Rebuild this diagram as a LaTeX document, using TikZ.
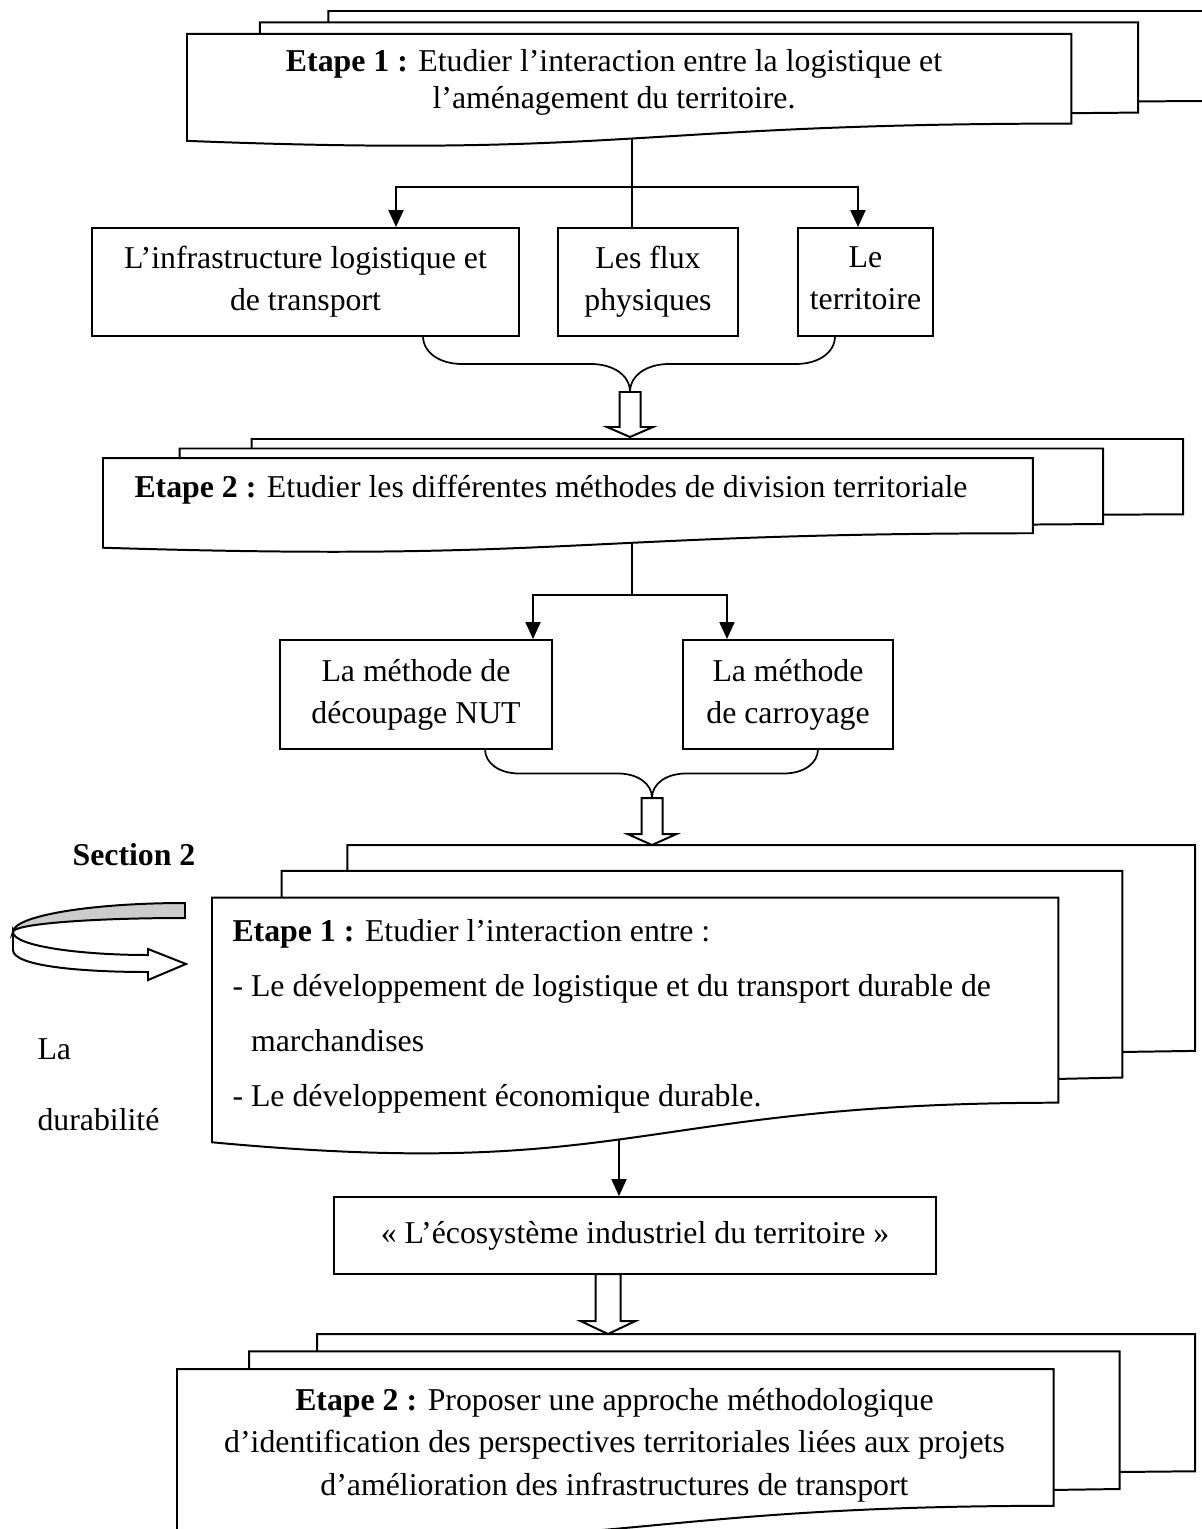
\documentclass[tikz,border=0pt]{standalone}
\usepackage{fontspec}
\setmainfont{Liberation Serif}
\usetikzlibrary{calc,arrows.meta}
\tikzset{
    boite/.style = {draw, rectangle, line width=0.75pt,
        align=center, inner sep=0pt, text depth=2.6pt},
    feuille/.style = {draw, fill=white, line width=0.75pt},
    trait/.style = {draw, line width=0.65pt},
    fleche/.style = {draw, line width=0.65pt, -{Triangle[length=6.4pt,width=5.7pt]}},
    bloc/.style = {draw, fill=white, line width=0.75pt, line join=miter},
    texte/.style = {inner sep=0pt}
}
\newcommand{\pix}{0.3774pt}
% pile de trois feuilles : x0, y0, largeur, hauteur
\newcommand{\multidoc}[4]{%
    \draw[feuille] ({#1+0.1376*#3},{#2+0.084*#4}) -- ({#1+0.1376*#3},#2) -- ({#1+#3},#2) -- ({#1+#3},{#2+0.6663*#4}) -- ({#1+0.926*#3},{#2+0.6698*#4});
    \draw[feuille] ({#1+0.0709*#3},{#2+0.17*#4}) -- ({#1+0.0709*#3},{#2+0.084*#4}) -- ({#1+0.926*#3},{#2+0.084*#4}) -- ({#1+0.926*#3},{#2+0.7524*#4}) -- ({#1+0.861*#3},{#2+0.757*#4});
    \draw[feuille] (#1,{#2+0.17*#4}) -- ({#1+0.861*#3},{#2+0.17*#4}) -- ({#1+0.861*#3},{#2+0.834*#4}) .. controls ({#1+0.43*#3},{#2+0.834*#4}) and ({#1+0.43*#3},{#2+1.09*#4}) .. (#1,{#2+0.962*#4}) -- cycle;
}
% accolade : bout gauche, pointe, bout droit, demi-profondeur
\newcommand{\accolade}[4]{%
    \draw[trait] (#1) .. controls +(0,{0.6*#4}) and +({-0.8*#4},0) .. ++({1.4*#4},#4)
        -- ($(#2)+({-1.4*#4},-#4)$) .. controls +({0.8*#4},0) and +(0,{-0.6*#4}) .. (#2)
        .. controls +(0,{-0.6*#4}) and +({-0.8*#4},0) .. ($(#2)+({1.4*#4},-#4)$)
        -- ($(#3)+({-1.4*#4},#4)$) .. controls +({0.8*#4},0) and +(0,{0.6*#4}) .. (#3);
}
% fleche creuse : depart, arrivee, demi-tige, demi-tete, longueur tete
\newcommand{\flechebloc}[5]{%
    \draw[bloc] ($(#1)+(-#3,0)$) -- ($(#2)+(-#3,-#5)$) -- ($(#2)+(-#4,-#5)$) -- (#2)
        -- ($(#2)+(#4,-#5)$) -- ($(#2)+(#3,-#5)$) -- ($(#1)+(#3,0)$) -- cycle;
}

\begin{document}
\begin{tikzpicture}[x=0.3774pt, y=-0.3774pt, font=\fontsize{12}{15.85}\selectfont]
    \useasboundingbox (0,0) rectangle (1202,1529);
    \clip (0,0) rectangle (1202,1529);

    % les piles de feuilles
    \multidoc{187}{11}{1027}{135}
    \multidoc{103}{439}{1080}{113}
    \multidoc{212}{845}{983}{309}
    \multidoc{177}{1334}{1018}{206}

    \node [texte, font=\fontsize{12}{13.8}\selectfont, align=center] (etapeA) at (614,82.5) {\textbf{Etape 1 :} Etudier l’interaction entre la logistique et\\ l’aménagement du territoire.};
    \node [texte, align=center] (etapeB) at (551,489.5) {\textbf{Etape 2 :} Etudier les différentes méthodes de division territoriale};
    \node [texte, font=\fontsize{12}{20.8}\selectfont, align=left, anchor=west] (etapeC) at (232,1016.5) {\textbf{Etape 1 :} Etudier l’interaction entre :\\ - Le développement de logistique et du transport durable de\\ \hspace*{7pt}marchandises\\ - Le développement économique durable.};
    \node [texte, font=\fontsize{12}{16}\selectfont, align=center] (etapeD) at (614.5,1445) {\textbf{Etape 2 :} Proposer une approche méthodologique\\ d’identification des perspectives territoriales liées aux projets\\ d’amélioration des infrastructures de transport};

    % premier niveau
    \node [boite, minimum width={427*\pix}, minimum height={108*\pix}] (infra) at (305.5,282) {L’infrastructure logistique et\\ de transport};
    \node [boite, minimum width={180*\pix}, minimum height={108*\pix}] (flux) at (648,282) {Les flux\\ physiques};
    \node [boite, minimum width={135*\pix}, minimum height={108*\pix}] (terr) at (865.5,282) {Le\\ territoire};
    \coordinate (basA) at (632,139);
    \coordinate (forkA) at (632,187);
    \draw [trait] (basA) -- (basA |- flux.north);
    \draw [fleche] (forkA) -| ($(infra.north)+(90.5,0)$);
    \draw [fleche] (forkA) -| ($(terr.north)+(-7.5,0)$);
    \coordinate (accA1) at (423,336);
    \coordinate (pointeA) at (630,392);
    \coordinate (accA2) at (835,336);
    \accolade{accA1}{pointeA}{accA2}{28}
    \coordinate (cibleA) at (630,437);
    \flechebloc{pointeA}{cibleA}{10.5}{23}{10}

    % second niveau
    \node [boite, minimum width={272*\pix}, minimum height={109*\pix}] (nut) at (416,694.5) {La méthode de\\ découpage NUT};
    \node [boite, minimum width={210*\pix}, minimum height={109*\pix}] (carro) at (788,694.5) {La méthode\\ de carroyage};
    \coordinate (basB) at (632,543);
    \coordinate (forkB) at (632,595);
    \draw [trait] (basB) -- (forkB);
    \draw [fleche] (forkB) -| ($(nut.north)+(117,0)$);
    \draw [fleche] (forkB) -| ($(carro.north)+(-61,0)$);
    \coordinate (accB1) at (485,749);
    \coordinate (pointeB) at (652,798);
    \coordinate (accB2) at (818,749);
    \accolade{accB1}{pointeB}{accB2}{24.5}
    \coordinate (cibleB) at (652,845);
    \flechebloc{pointeB}{cibleB}{10.5}{24.5}{11}

    % section 2
    \node [texte, font=\fontsize{12}{15.85}\selectfont\bfseries] (section) at (134,855) {Section 2};
    \draw [feuille, fill=gray!40] (185,903) .. controls (90,903) and (13,916) .. (13,932)
        .. controls (13,924) and (90,918) .. (185,918) -- cycle;
    \draw [feuille] (13,932) .. controls (13,946) and (80,955) .. (148,955) -- (148,949) -- (186,964)
        -- (148,980) -- (148,972) .. controls (80,972) and (13,966) .. (13,950) -- cycle;
    \node [texte, align=left, anchor=north west, font=\fontsize{12}{27}\selectfont] (durab) at (37,1038) {La\\ durabilité};

    \node [boite, minimum width={602*\pix}, minimum height={77*\pix}] (eco) at (635,1235.5) {« L’écosystème industriel du territoire »};
    \coordinate (basC) at (619,1139);
    \draw [fleche] (basC) -- (basC |- eco.north);
    \coordinate (departC) at (608,1274);
    \coordinate (cibleC) at (608,1334);
    \flechebloc{departC}{cibleC}{12.5}{27.5}{13}
\end{tikzpicture}
\end{document}
